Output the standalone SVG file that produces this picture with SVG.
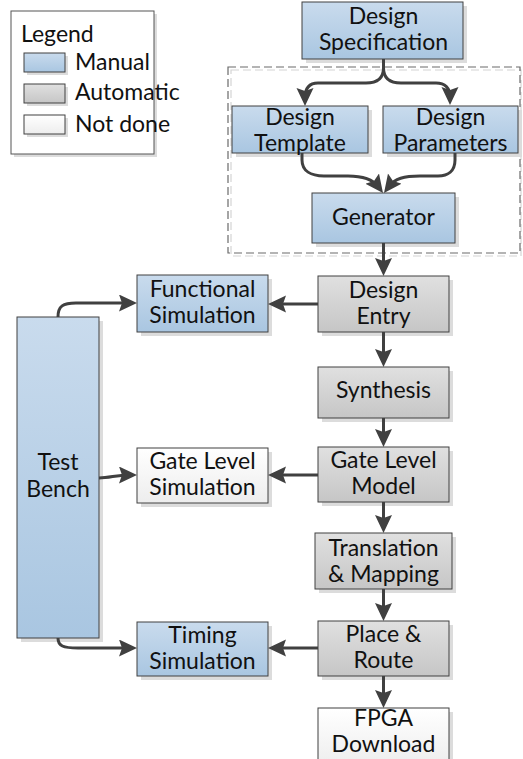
<svg xmlns="http://www.w3.org/2000/svg" width="523" height="759" viewBox="0 0 523 759">
<defs>
<linearGradient id="gBlue" x1="0" y1="0" x2="0" y2="1"><stop offset="0" stop-color="#c9dbed"/><stop offset="1" stop-color="#a9c6e1"/></linearGradient>
<linearGradient id="gGray" x1="0" y1="0" x2="0" y2="1"><stop offset="0" stop-color="#e0e0e0"/><stop offset="1" stop-color="#c6c6c6"/></linearGradient>
<linearGradient id="gWhite" x1="0" y1="0" x2="0" y2="1"><stop offset="0" stop-color="#ffffff"/><stop offset="1" stop-color="#ededed"/></linearGradient>
<marker id="ah" markerUnits="userSpaceOnUse" markerWidth="20" markerHeight="18" refX="10" refY="8.5" orient="auto" viewBox="0 0 20 18">
<path d="M0,0 L18,8.5 L0,17 L3,8.5 Z" fill="#404040"/>
</marker>
</defs>
<style>
.sh{fill:#dcdcdc;stroke:none}
.box{stroke:#404040;stroke-width:1}
.blue{fill:url(#gBlue)}
.gray{fill:url(#gGray)}
.white{fill:url(#gWhite)}
text{font-family:Lato,"Liberation Sans",sans-serif;font-size:23px;fill:#111;text-anchor:middle}
.lg{text-anchor:start}
.c{fill:none;stroke:#404040;stroke-width:3}
</style>

<g id="legend">
<rect x="14" y="14" width="143" height="143" class="sh"/>
<rect x="11" y="11" width="143" height="143" fill="#fff" stroke="#555" stroke-width="1"/>
<text x="21" y="42" class="lg">Legend</text>
<rect x="27" y="56" width="41" height="19" class="sh"/>
<rect x="24" y="53" width="41" height="19" class="box blue"/>
<text x="75" y="70" class="lg">Manual</text>
<rect x="27" y="87" width="41" height="19" class="sh"/>
<rect x="24" y="84" width="41" height="19" class="box gray"/>
<text x="75" y="100" class="lg">Automatic</text>
<rect x="27" y="118" width="41" height="19" class="sh"/>
<rect x="24" y="115" width="41" height="19" class="box white"/>
<text x="75" y="132" class="lg">Not done</text>
</g>

<g id="generator-group">
<rect x="231" y="70" width="290" height="186" fill="none" stroke="#d4d4d4" stroke-width="1.2" stroke-dasharray="8,4"/>
<rect x="228" y="67" width="292" height="186" fill="none" stroke="#6a6a6a" stroke-width="1.2" stroke-dasharray="8,4"/>
</g>

<g id="design-spec">
<rect x="306" y="6" width="161" height="57" class="sh"/>
<rect x="302" y="2" width="161" height="57" class="box blue"/>
<text x="383.5" y="24">Design</text><text x="383.5" y="50">Specification</text>
</g>
<g id="design-template">
<rect x="236" y="110" width="136" height="47" class="sh"/>
<rect x="232" y="106" width="136" height="47" class="box blue"/>
<text x="300" y="125">Design</text><text x="300" y="151">Template</text>
</g>
<g id="design-parameters">
<rect x="387" y="110" width="135" height="47" class="sh"/>
<rect x="383" y="106" width="135" height="47" class="box blue"/>
<text x="450.5" y="125">Design</text><text x="450.5" y="151">Parameters</text>
</g>
<g id="generator">
<rect x="316" y="197" width="143" height="50" class="sh"/>
<rect x="312" y="193" width="143" height="50" class="box blue"/>
<text x="383.5" y="225">Generator</text>
</g>
<g id="design-entry">
<rect x="322" y="280" width="131" height="56" class="sh"/>
<rect x="318" y="276" width="131" height="56" class="box gray"/>
<text x="383.5" y="298">Design</text><text x="383.5" y="324">Entry</text>
</g>
<g id="synthesis">
<rect x="322" y="371" width="131" height="51" class="sh"/>
<rect x="318" y="367" width="131" height="51" class="box gray"/>
<text x="383.5" y="398">Synthesis</text>
</g>
<g id="gate-level-model">
<rect x="322" y="451" width="131" height="55" class="sh"/>
<rect x="318" y="447" width="131" height="55" class="box gray"/>
<text x="383.5" y="468">Gate Level</text><text x="383.5" y="494">Model</text>
</g>
<g id="translation-mapping">
<rect x="319" y="537" width="137" height="56" class="sh"/>
<rect x="315" y="533" width="137" height="56" class="box gray"/>
<text x="383.5" y="556">Translation</text><text x="383.5" y="582">&amp; Mapping</text>
</g>
<g id="place-route">
<rect x="322" y="625" width="131" height="55" class="sh"/>
<rect x="318" y="621" width="131" height="55" class="box gray"/>
<text x="383.5" y="642">Place &amp;</text><text x="383.5" y="668">Route</text>
</g>
<g id="fpga-download">
<rect x="322" y="712" width="131" height="60" class="sh"/>
<rect x="318" y="708" width="131" height="60" class="box white"/>
<text x="383.5" y="726">FPGA</text><text x="383.5" y="752">Download</text>
</g>
<g id="functional-simulation">
<rect x="141" y="279" width="131" height="57" class="sh"/>
<rect x="137" y="275" width="131" height="57" class="box blue"/>
<text x="202.5" y="297">Functional</text><text x="202.5" y="323">Simulation</text>
</g>
<g id="gate-level-simulation">
<rect x="141" y="452" width="131" height="55" class="sh"/>
<rect x="137" y="448" width="131" height="55" class="box white"/>
<text x="202.5" y="469">Gate Level</text><text x="202.5" y="495">Simulation</text>
</g>
<g id="timing-simulation">
<rect x="141" y="626" width="131" height="54" class="sh"/>
<rect x="137" y="622" width="131" height="54" class="box blue"/>
<text x="202.5" y="643">Timing</text><text x="202.5" y="669">Simulation</text>
</g>
<g id="test-bench">
<rect x="21" y="321" width="82" height="321" class="sh"/>
<rect x="17" y="317" width="82" height="321" class="box blue"/>
<text x="58" y="470">Test</text><text x="58" y="497">Bench</text>
</g>

<g id="connectors">
<path class="c" d="M383.5,59 L383.5,68 C383.5,79 376,83 366,83 L318,83 C309,83 305,88 305,98" marker-end="url(#ah)"/>
<path class="c" d="M383.5,68 C383.5,79 391,83 401,83 L436,83 C445,83 450,88 450,97" marker-end="url(#ah)"/>
<path class="c" d="M302,153 L302,160 C302,171 311,176 324,176 L348,176 C362,176 372.2,178.6 378.2,186.6" marker-end="url(#ah)"/>
<path class="c" d="M455,153 L455,160 C455,171 448,176 438,176 L420,176 C404,176 394.8,178.6 388.8,186.6" marker-end="url(#ah)"/>
<path class="c" d="M383.5,243 L383.5,268" marker-end="url(#ah)"/>
<path class="c" d="M318,304 L276,304" marker-end="url(#ah)"/>
<path class="c" d="M383.5,332 L383.5,359" marker-end="url(#ah)"/>
<path class="c" d="M383.5,418 L383.5,439" marker-end="url(#ah)"/>
<path class="c" d="M318,475 L276,475" marker-end="url(#ah)"/>
<path class="c" d="M383.5,502 L383.5,525" marker-end="url(#ah)"/>
<path class="c" d="M383.5,589 L383.5,613" marker-end="url(#ah)"/>
<path class="c" d="M318,648 L276,648" marker-end="url(#ah)"/>
<path class="c" d="M383.5,676 L383.5,700" marker-end="url(#ah)"/>
<path class="c" d="M58,317 C58,306 63,303 76,303 L129,303" marker-end="url(#ah)"/>
<path class="c" d="M99,478 C110,478 116,475 129,475" marker-end="url(#ah)"/>
<path class="c" d="M58,638 C58,646 63,648 78,648 L129,648" marker-end="url(#ah)"/>
</g>
</svg>
